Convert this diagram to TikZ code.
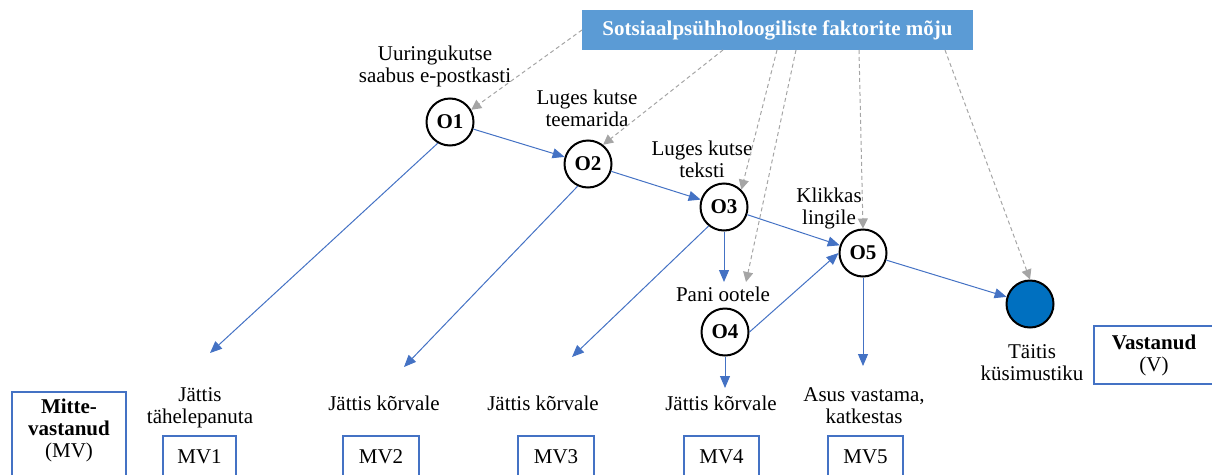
\documentclass[tikz,border=0pt]{standalone}
\usepackage{fontspec}
\setmainfont{Liberation Serif}
\usetikzlibrary{arrows.meta}
\definecolor{arrblue}{HTML}{4472C4}
\definecolor{boxblue}{HTML}{5B9BD5}
\definecolor{dotblue}{HTML}{0070C0}
\definecolor{dgray}{HTML}{A5A5A5}
\begin{document}
\begin{tikzpicture}[x=1pt,y=-1pt,
  txt/.style={font=\fontsize{21}{22}\selectfont, align=center, inner sep=0pt},
  st/.style={circle, draw=black, line width=2pt, minimum size=47pt, inner sep=0pt, font=\fontsize{21}{22}\selectfont\bfseries},
  bx/.style={draw=arrblue, line width=1.8pt, inner sep=0pt, font=\fontsize{21}{22}\selectfont, align=center},
  flow/.style={draw=arrblue, line width=1pt, -{Triangle[length=12pt,width=10pt]}},
  infl/.style={draw=dgray, line width=1pt, dash pattern=on 4pt off 3pt, -{Triangle[length=10pt,width=10pt]}}
]
\useasboundingbox (0,0) rectangle (1212,474);
\clip (0,0) rectangle (1212,474);

% top box
\node[fill=boxblue, minimum width=391pt, minimum height=40pt, inner sep=0pt, text=white,
      font=\fontsize{21}{22}\selectfont\bfseries] (top) at (777.5,30) {Sotsiaalpsühholoogiliste faktorite mõju};

% states
\node[st] (O1) at (450,122) {O1};
\node[st] (O2) at (588,164) {O2};
\node[st] (O3) at (724,207) {O3};
\node[st] (O4) at (725,332) {O4};
\node[st] (O5) at (863,253) {O5};
\node[st, fill=dotblue] (F) at (1030,304) {};

% labels
\node[txt] (L1) at (435,66) {Uuringukutse\\saabus e-postkasti};
\node[txt] (L2) at (587,108) {Luges kutse\\teemarida};
\node[txt] (L3) at (702,159) {Luges kutse\\teksti};
\node[txt] (L5) at (829,208.5) {Klikkas\\lingile};
\node[txt] (L4) at (723,294) {Pani ootele};
\node[txt] (LF) at (1032,362.5) {Täitis\\küsimustiku};

\node[txt] (B1) at (200,407.5) {Jättis\\tähelepanuta};
\node[txt] (B2) at (384,403) {Jättis kõrvale};
\node[txt] (B3) at (543,403) {Jättis kõrvale};
\node[txt] (B4) at (721,403) {Jättis kõrvale};
\node[txt] (B5) at (864,406) {Asus vastama,\\katkestas};

% outcome boxes
\node[bx, minimum width=73pt, minimum height=42pt] (MV1) at (199.5,457) {MV1};
\node[bx, minimum width=76pt, minimum height=42pt] (MV2) at (381,457) {MV2};
\node[bx, minimum width=76pt, minimum height=42pt] (MV3) at (556,457) {MV3};
\node[bx, minimum width=75pt, minimum height=42pt] (MV4) at (721.5,457) {MV4};
\node[bx, minimum width=75pt, minimum height=42pt] (MV5) at (865.5,457) {MV5};

\node[bx, minimum width=114pt, minimum height=108pt] (MV) at (69,446) {};
\node[txt] (MVt) at (69,430) {\textbf{Mitte-}\\\textbf{vastanud}\\(MV)};

\node[bx, minimum width=120pt, minimum height=58pt] (V) at (1154,355) {\textbf{Vastanud}\\(V)};

% free ends
\coordinate (c1) at (210,353);
\coordinate (c2) at (404,367);
\coordinate (c3) at (572,357);
\coordinate (c4) at (725,388);
\coordinate (c5) at (863,366);
\coordinate (c34) at (724,282);
\coordinate (g4) at (746,282);
\coordinate (s1) at (582,30);
\coordinate (s2) at (723,50);
\coordinate (s3) at (777,50);
\coordinate (s4) at (796,50);
\coordinate (s5) at (859,50);
\coordinate (s6) at (945,50);

% blue flow arrows
\draw[flow] (O1) -- (O2);
\draw[flow] (O2) -- (O3);
\draw[flow] (O3) -- (O5);
\draw[flow] (O5) -- (F);
\draw[flow] (O3.south) -- (c34);
\draw[flow] (O4.east) -- (O5.west);
\draw[flow] (O4.south) -- (c4);
\draw[flow] (O1.240) -- (c1);
\draw[flow] (O2.245) -- (c2);
\draw[flow] (O3.231) -- (c3);
\draw[flow] (O5.south) -- (c5);

% gray influence arrows
\draw[infl] (s1) -- (O1.30);
\draw[infl] (s2) -- (O2.52);
\draw[infl] (s3) -- (O3.45);
\draw[infl] (s4) -- (g4);
\draw[infl] (s5) -- (O5.north);
\draw[infl] (s6) -- (F.north);
\end{tikzpicture}
\end{document}
